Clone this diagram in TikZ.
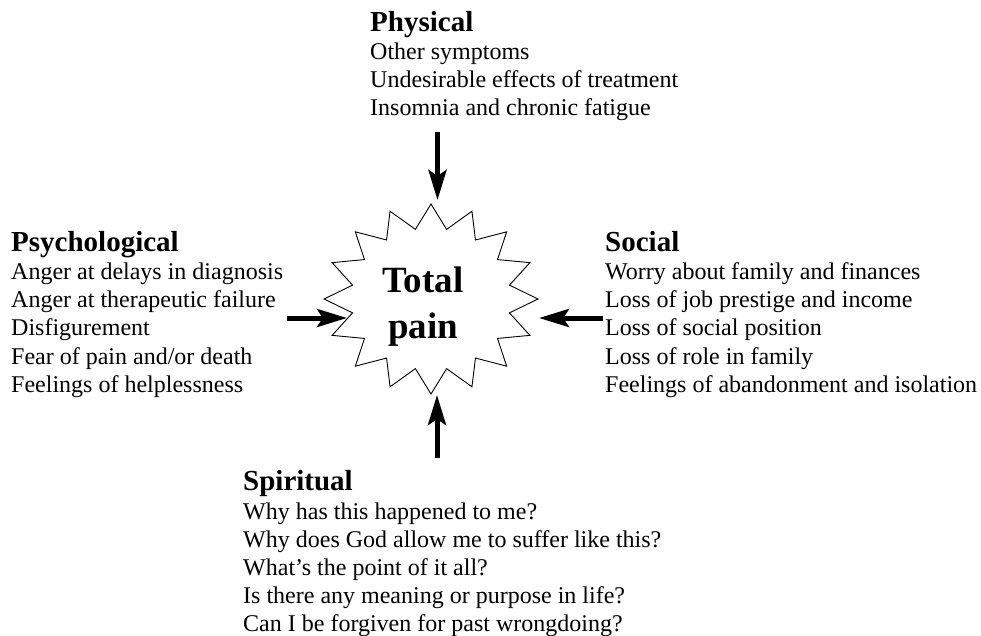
\documentclass[tikz,border=0pt]{standalone}
\usepackage{fontspec}
\setmainfont{Liberation Serif}
\usetikzlibrary{arrows.meta}
\begin{document}
\begin{tikzpicture}[x=1pt,y=-1pt,
  title/.style={anchor=base west,inner sep=0pt,font=\fontsize{29}{31}\selectfont\bfseries},
  item/.style={anchor=base west,inner sep=0pt,font=\fontsize{24}{28}\selectfont},
  centre/.style={anchor=base,inner sep=0pt,font=\fontsize{37}{40}\selectfont\bfseries},
  bigarrow/.style={line width=5pt,-{Stealth[length=30pt,width=18pt,inset=6pt]}},
  starline/.style={line width=0.9pt,line join=miter,miter limit=20}]
\useasboundingbox (0,0) rectangle (981,635);
% star
\coordinate (sc) at (431,299);
\draw[starline] plot[samples at={0,...,31}]
  ({431+(mod(\x,2)==0?107:80)*cos(90+11.25*\x)},{299-(mod(\x,2)==0?95:71)*sin(90+11.25*\x)}) -- cycle;
\node[centre] (total) at (423,292) {Total};
\node[centre] (pain) at (423,338) {pain};
% Physical
\node[title] (phys) at (370,31) {Physical};
\foreach \t [count=\i] in {Other symptoms,Undesirable effects of treatment,Insomnia and chronic fatigue}
  \node[item] (phys\i) at (370,{59.5+28*(\i-1)}) {\t};
% Psychological
\node[title] (psych) at (11,251) {Psychological};
\foreach \t [count=\i] in {Anger at delays in diagnosis,Anger at therapeutic failure,Disfigurement,Fear of pain and/or death,Feelings of helplessness}
  \node[item] (psych\i) at (11,{279.5+28.2*(\i-1)}) {\t};
% Social
\node[title] (soc) at (605,251) {Social};
\foreach \t [count=\i] in {Worry about family and finances,Loss of job prestige and income,Loss of social position,Loss of role in family,Feelings of abandonment and isolation}
  \node[item] (soc\i) at (605,{279.5+28.2*(\i-1)}) {\t};
% Spiritual
\node[title] (spir) at (243,490) {Spiritual};
\foreach \t [count=\i] in {Why has this happened to me?,Why does God allow me to suffer like this?,What’s the point of it all?,Is there any meaning or purpose in life?,Can I be forgiven for past wrongdoing?}
  \node[item] (spir\i) at (243,{519+28*(\i-1)}) {\t};
% arrows
\coordinate (a1s) at (437.5,132); \coordinate (a1e) at (437.5,200);
\coordinate (a2s) at (437,458);   \coordinate (a2e) at (437,395);
\coordinate (a3s) at (287,318);   \coordinate (a3e) at (347,318);
\coordinate (a4s) at (603,318);   \coordinate (a4e) at (539,318);
\draw[bigarrow] (a1s) -- (a1e);
\draw[bigarrow] (a2s) -- (a2e);
\draw[bigarrow] (a3s) -- (a3e);
\draw[bigarrow] (a4s) -- (a4e);
\end{tikzpicture}
\end{document}
